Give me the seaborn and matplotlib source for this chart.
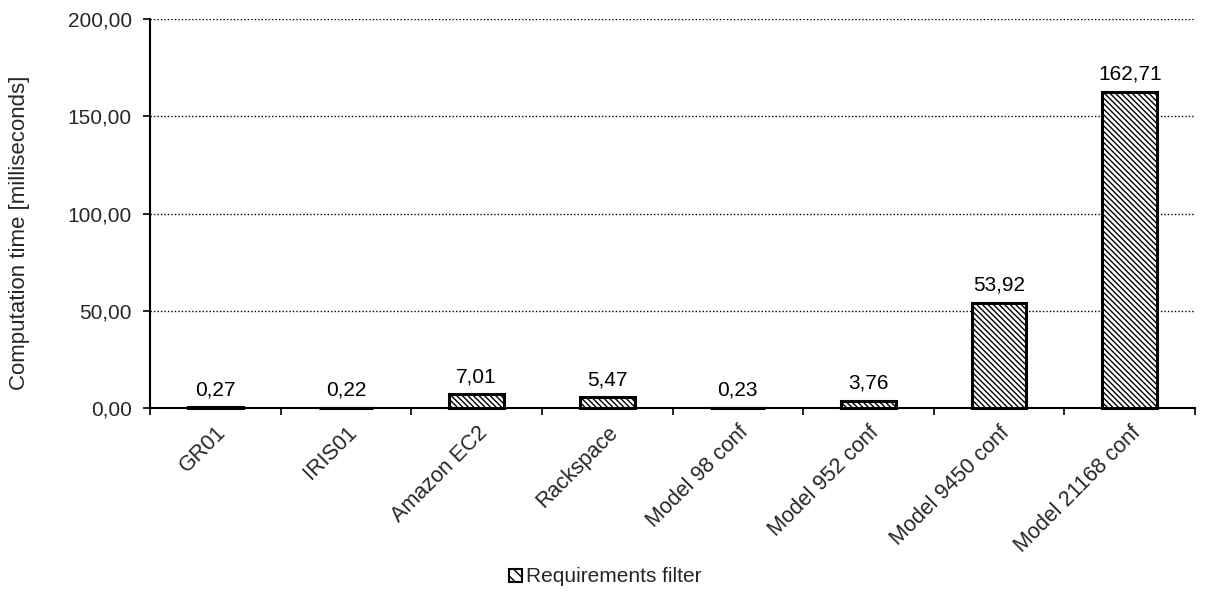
import matplotlib
matplotlib.use("Agg")
import matplotlib.pyplot as plt
import seaborn as sns
import pandas as pd
import numpy as np
from matplotlib.patches import Patch

categories = ["GR01", "IRIS01", "Amazon EC2", "Rackspace", "Model 98 conf",
              "Model 952 conf", "Model 9450 conf", "Model 21168 conf"]
times_ms = [0.27, 0.22, 7.01, 5.47, 0.23, 3.76, 53.92, 162.71]
value_labels = ["0,27", "0,22", "7,01", "5,47", "0,23", "3,76", "53,92", "162,71"]
y_ticks = [0, 50, 100, 150, 200]
y_tick_labels = ["0,00", "50,00", "100,00", "150,00", "200,00"]
series_name = "Requirements filter"

FS = 15

sns.set_theme(style="white")
plt.rcParams["font.family"] = ["Liberation Sans", "DejaVu Sans"]
plt.rcParams["hatch.linewidth"] = 1.0

df = pd.DataFrame({"config": categories, "time": times_ms})

fig = plt.figure(figsize=(12.11, 5.93), dpi=100)
ax = fig.add_axes([150 / 1211, 1 - 408 / 593, (1195 - 150) / 1211, (408 - 19) / 593])

sns.barplot(data=df, x="config", y="time", ax=ax, color="white",
            width=0.42, edgecolor="black", linewidth=2.2, saturation=1)
for p in ax.patches:
    p.set_hatch("\\\\\\\\\\\\")
    p.set_edgecolor("black")
    p.set_zorder(3)
    p.set_clip_on(False)

ax.set_ylim(0, 200)
ax.set_xlim(-0.5, len(categories) - 0.5)
ax.set_yticks(y_ticks)
ax.set_yticklabels(y_tick_labels, fontsize=FS)
ax.yaxis.grid(True, color="black", linestyle=(0, (1, 1.5)), linewidth=1.0)
ax.set_axisbelow(True)

# category ticks sit on the boundaries between bars
ax.set_xticks(np.arange(len(categories)))
ax.set_xticklabels(categories, rotation=45, ha="right", rotation_mode="anchor", fontsize=15.5)
ax.tick_params(axis="x", length=0, pad=10)
ax.set_xticks(np.arange(len(categories) + 1) - 0.5, minor=True)
ax.tick_params(axis="x", which="minor", length=5, width=1.2, color="black", direction="out", bottom=True)
ax.tick_params(axis="y", length=5, width=1.2, color="black", direction="out", left=True, pad=8)

for s in ["top", "right"]:
    ax.spines[s].set_visible(False)
for s in ["left", "bottom"]:
    ax.spines[s].set_color("black")
    ax.spines[s].set_linewidth(1.5)

for i, (v, lab) in enumerate(zip(times_ms, value_labels)):
    ax.annotate(lab, (i, v), xytext=(0, 6), textcoords="offset points",
                ha="center", va="bottom", fontsize=FS, color="black")

ax.set_xlabel("")
ax.set_ylabel("Computation time [milliseconds]", fontsize=16)
ax.yaxis.set_label_coords(-0.115, 0.45)

handle = Patch(facecolor="white", edgecolor="black", hatch="\\\\\\", linewidth=1.5, label=series_name)
fig.legend(handles=[handle], loc="center", bbox_to_anchor=(0.5, 1 - 577 / 593),
           frameon=False, fontsize=FS, handlelength=0.6, handleheight=0.6, handletextpad=0.2)

fig.savefig("out.png", dpi=100)
